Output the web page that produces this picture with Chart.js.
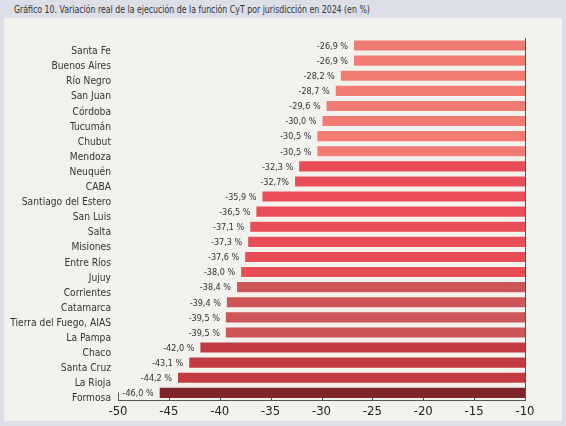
<!DOCTYPE html>
<html>
<head>
<meta charset="utf-8">
<script src="https://cdn.jsdelivr.net/npm/chart.js@4.4.1/dist/chart.umd.min.js"></script>
<style>
  html, body { margin: 0; padding: 0; }
  body { width: 566px; height: 426px; background: #dcdee8; position: relative; overflow: hidden; }
  #title {
    position: absolute; left: 14px; top: 2px; height: 16px; line-height: 16px;
    font-family: "DejaVu Sans Condensed", "Liberation Sans", sans-serif;
    font-size: 10px; color: #333; white-space: nowrap;
    transform: scaleX(0.87); transform-origin: left center;
  }
  #panel { position: absolute; left: 4px; top: 18px; width: 558px; height: 403px; background: #f2f1ed; }
  #wrap { position: absolute; left: 0; top: 0; width: 566px; height: 426px; }
</style>
</head>
<body>
<div id="title">Gráfico 10. Variación real de la ejecución de la función CyT por jurisdicción en 2024 (en %)</div>
<div id="panel"></div>
<div id="wrap"><canvas id="chart"></canvas></div>
<script>
const jurisdictions = [
  "Santa Fe", "Buenos Aires", "Río Negro", "San Juan", "Córdoba", "Tucumán",
  "Chubut", "Mendoza", "Neuquén", "CABA", "Santiago del Estero", "San Luis",
  "Salta", "Misiones", "Entre Ríos", "Jujuy", "Corrientes", "Catamarca",
  "Tierra del Fuego, AIAS", "La Pampa", "Chaco", "Santa Cruz", "La Rioja", "Formosa"
];
const variation = [
  -26.9, -26.9, -28.2, -28.7, -29.6, -30.0, -30.5, -30.5, -32.3, -32.7, -35.9, -36.5,
  -37.1, -37.3, -37.6, -38.0, -38.4, -39.4, -39.5, -39.5, -42.0, -43.1, -44.2, -46.0
];
const valueLabels = [
  "-26,9 %", "-26,9 %", "-28,2 %", "-28,7 %", "-29,6 %", "-30,0 %", "-30,5 %", "-30,5 %",
  "-32,3 %", "-32,7%", "-35,9 %", "-36,5 %", "-37,1 %", "-37,3 %", "-37,6 %", "-38,0 %",
  "-38,4 %", "-39,4 %", "-39,5 %", "-39,5 %", "-42,0 %", "-43,1 %", "-44,2 %", "-46,0 %"
];
const xTicks = [-50, -45, -40, -35, -30, -25, -20, -15, -10];

// colour groups, top to bottom
const barColors = [
  "#f07b73", "#f07b73", "#f07b73", "#f07b73", "#f07b73", "#f07b73", "#f07b73", "#f07b73",
  "#e94e56", "#e94e56", "#e94e56", "#e94e56", "#e94e56", "#e94e56", "#e94e56", "#e94e56",
  "#cc5557", "#cc5557", "#cc5557", "#cc5557",
  "#c23b3e", "#c23b3e", "#c23b3e",
  "#7f2427"
];

const FONT = "'DejaVu Sans Condensed', 'Liberation Sans', sans-serif";

// value labels to the left of each bar
const valueLabelPlugin = {
  id: "valueLabels",
  afterDatasetsDraw(chart) {
    const ctx = chart.ctx;
    const meta = chart.getDatasetMeta(0);
    ctx.save();
    ctx.font = "9px " + FONT;
    ctx.fillStyle = "#333";
    ctx.textAlign = "right";
    ctx.textBaseline = "middle";
    meta.data.forEach((bar, i) => {
      ctx.fillText(valueLabels[i], bar.x - 5, bar.y + 1);
    });
    ctx.restore();
  }
};

// right-hand line at -10 and small inward ticks on the x axis
const axisDecor = {
  id: "axisDecor",
  afterDraw(chart) {
    const ctx = chart.ctx;
    const x = chart.scales.x;
    const area = chart.chartArea;
    ctx.save();
    ctx.strokeStyle = "#555";
    ctx.lineWidth = 1;
    const right = Math.round(x.getPixelForValue(-10)) + 0.5;
    ctx.beginPath();
    ctx.moveTo(right, area.top);
    ctx.lineTo(right, area.bottom);
    ctx.stroke();
    const bottom = Math.round(area.bottom) + 0.5;
    xTicks.forEach((t, i) => {
      const px = Math.round(x.getPixelForValue(t)) + 0.5;
      const len = i === 0 ? 8 : 3;
      ctx.beginPath();
      ctx.moveTo(px, bottom);
      ctx.lineTo(px, bottom - len);
      ctx.stroke();
    });
    ctx.restore();
  }
};

new Chart(document.getElementById("chart"), {
  type: "bar",
  data: {
    labels: jurisdictions,
    datasets: [{
      data: variation,
      backgroundColor: barColors,
      borderColor: "rgba(255, 255, 255, 0.35)",
      borderWidth: 1,
      barPercentage: 0.8,
      categoryPercentage: 1
    }]
  },
  options: {
    indexAxis: "y",
    responsive: true,
    maintainAspectRatio: false,
    animation: false,
    events: [],
    layout: { padding: { left: 0, right: 41, top: 38, bottom: 4 } },
    plugins: { legend: { display: false }, tooltip: { enabled: false } },
    scales: {
      x: {
        min: -50,
        max: -10,
        afterBuildTicks(scale) {
          scale.ticks = xTicks.map((v) => ({ value: v }));
        },
        grid: { display: false, drawTicks: false },
        border: { display: true, color: "#555", width: 1 },
        ticks: { font: { size: 13, family: FONT }, color: "#222", padding: 3 }
      },
      y: {
        grid: { display: false, drawTicks: false },
        border: { display: false },
        afterFit(scale) { scale.width = 118; },
        ticks: {
          autoSkip: false,
          font: { size: 10.2, family: FONT },
          color: "#333",
          padding: 7,
          labelOffset: 6
        }
      }
    }
  },
  plugins: [valueLabelPlugin, axisDecor]
});
</script>
</body>
</html>
